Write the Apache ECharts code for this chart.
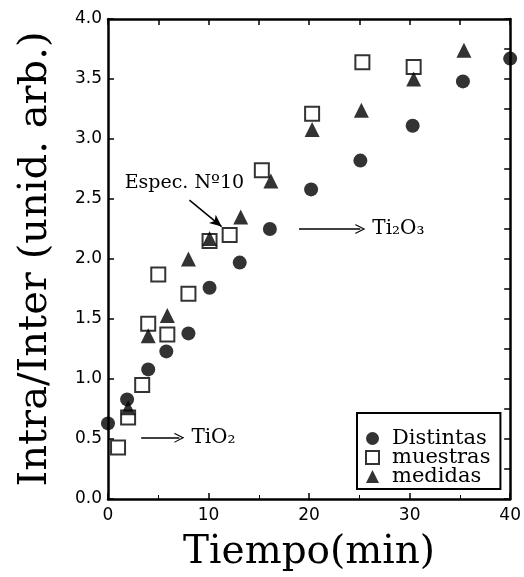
<!DOCTYPE html>
<html>
<head>
<meta charset="utf-8">
<script src="https://cdn.jsdelivr.net/npm/echarts@6/dist/echarts.min.js"></script>
<style>
    html, body { margin: 0; padding: 0; background: #fff; }
    #chart { width: 524px; height: 577px; }
</style>
</head>
<body>
<div id="chart"></div>
<script>
// Distintas (circulos llenos)
var distintasX = [0, 1.9, 4.0, 5.8, 8.0, 10.1, 13.1, 16.1, 20.2, 25.1, 30.3, 35.3, 40.0];
var distintasY = [0.63, 0.83, 1.08, 1.23, 1.38, 1.76, 1.97, 2.25, 2.58, 2.82, 3.11, 3.48, 3.67];
// muestras (cuadrados vacios)
var muestrasX = [1.0, 2.0, 3.4, 4.0, 5.0, 5.9, 8.0, 10.1, 12.1, 15.3, 20.3, 25.3, 30.4];
var muestrasY = [0.43, 0.68, 0.95, 1.46, 1.87, 1.37, 1.71, 2.15, 2.20, 2.74, 3.21, 3.64, 3.60];
// medidas (triangulos llenos)
var medidasX = [2.0, 4.0, 5.9, 8.0, 10.1, 13.2, 16.2, 20.3, 25.2, 30.4, 35.4];
var medidasY = [0.76, 1.36, 1.53, 2.0, 2.17, 2.35, 2.65, 3.08, 3.24, 3.50, 3.74];

var seriesNames = ["Distintas", "muestras", "medidas"];

function pairs(xs, ys) {
    return xs.map(function(x, i) { return [x, ys[i]]; });
}

var serif = "DejaVu Serif";
var sans = "DejaVu Sans";
var openArrow = "path://M0,12 L6,0 L12,12 L10.6,12 L6,3 L1.4,12 Z";

var chart = echarts.init(document.getElementById("chart"));

var axisLine = { show: true, onZero: false, lineStyle: { color: "#000", width: 2.5 } };
var tick = { inside: true, length: 6, lineStyle: { color: "#000", width: 1.5 } };

var option = {
    animation: false,
    backgroundColor: "#fff",
    grid: { left: 108, right: 11, top: 19, bottom: 77 },
    legend: {
        data: seriesNames,
        orient: "vertical",
        left: 357,
        top: 413,
        padding: [15, 10, 2, 8],
        itemGap: -2,
        itemWidth: 13,
        itemHeight: 13,
        borderColor: "#000",
        borderWidth: 2,
        textStyle: { fontFamily: serif, fontSize: 21, lineHeight: 19, color: "#000", padding: [0, 0, 0, 8] }
    },
    xAxis: [{
        type: "value",
        min: 0,
        max: 40,
        interval: 10,
        name: "Tiempo(min)",
        nameLocation: "middle",
        nameGap: 34,
        nameTextStyle: { fontFamily: serif, fontSize: 39, color: "#000" },
        axisLine: axisLine,
        axisTick: tick,
        minorTick: { show: true, splitNumber: 2, length: 4, lineStyle: { color: "#000" } },
        axisLabel: { fontFamily: sans, fontSize: 17, color: "#000", margin: 8 },
        splitLine: { show: false }
    }, {
        type: "value",
        position: "top",
        min: 0,
        max: 40,
        interval: 5,
        axisLine: axisLine,
        axisTick: tick,
        axisLabel: { show: false },
        splitLine: { show: false }
    }],
    yAxis: [{
        type: "value",
        min: 0,
        max: 4,
        interval: 0.5,
        name: "Intra/Inter (unid. arb.)",
        nameLocation: "middle",
        nameGap: 52,
        nameTextStyle: { fontFamily: serif, fontSize: 40, color: "#000" },
        axisLine: axisLine,
        axisTick: tick,
        axisLabel: {
            fontFamily: sans, fontSize: 17, color: "#000", margin: 6,
            formatter: function(v) { return v.toFixed(1); }
        },
        splitLine: { show: false }
    }, {
        type: "value",
        position: "right",
        min: 0,
        max: 4,
        interval: 0.25,
        axisLine: axisLine,
        axisTick: tick,
        axisLabel: { show: false },
        splitLine: { show: false }
    }],
    series: [{
        name: "Distintas",
        type: "scatter",
        symbol: "circle",
        symbolSize: 14,
        itemStyle: { color: "#000" },
        data: pairs(distintasX, distintasY)
    }, {
        name: "muestras",
        type: "scatter",
        symbol: "rect",
        symbolSize: 14,
        itemStyle: { color: "#fff", borderColor: "#000", borderWidth: 2 },
        data: pairs(muestrasX, muestrasY)
    }, {
        name: "medidas",
        type: "scatter",
        symbol: "triangle",
        symbolSize: 15,
        itemStyle: { color: "#000" },
        data: pairs(medidasX, medidasY)
    }, {
        // anotaciones
        name: "notas",
        type: "scatter",
        data: [],
        silent: true,
        markLine: {
            silent: true,
            animation: false,
            lineStyle: { color: "#000", width: 1.5, type: "solid" },
            label: { show: true, position: "end", distance: 12, color: "#000", fontFamily: serif, fontSize: 20 },
            data: [
                [{ coord: [19.0, 2.25], symbol: "none" },
                 { coord: [25.1, 2.25], symbol: openArrow, symbolSize: [10, 10], label: { formatter: "Ti\u2082O\u2083" } }],
                [{ coord: [3.3, 0.51], symbol: "none" },
                 { coord: [7.1, 0.51], symbol: openArrow, symbolSize: [10, 10], label: { formatter: "TiO\u2082" } }],
                [{ coord: [8.1, 2.49], symbol: "none" },
                 { coord: [11.3, 2.27], symbol: "arrow", symbolSize: [8, 12], label: { show: false } }]
            ]
        },
        markPoint: {
            silent: true,
            symbol: "circle",
            symbolSize: 0,
            label: { show: true, position: "inside", color: "#000", fontFamily: serif, fontSize: 19 },
            data: [{ coord: [7.6, 2.63], value: "Espec. N\u00ba10", label: { formatter: "Espec. N\u00ba10" } }]
        }
    }]
};

chart.setOption(option);
</script>
</body>
</html>
